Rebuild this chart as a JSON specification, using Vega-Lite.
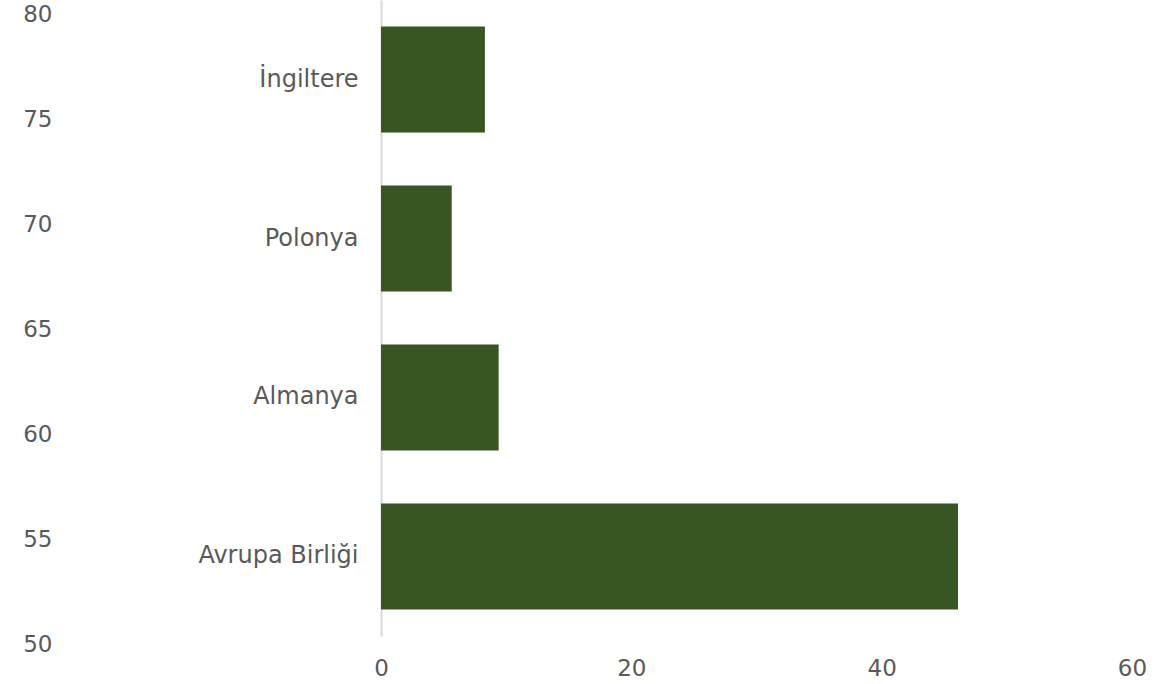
{
  "$schema": "https://vega.github.io/schema/vega-lite/v6.json",
  "width": 751,
  "height": 636,
  "autosize": "none",
  "padding": {"left": 381, "top": 0, "right": 38, "bottom": 48},
  "background": "white",
  "config": {
    "view": {"stroke": null},
    "font": "DejaVu Sans",
    "axis": {"labelFont": "DejaVu Sans", "labelColor": "#595959", "labelFontSize": 23, "grid": false, "ticks": false, "tickSize": 0, "title": null}
  },
  "data": {
    "values": [
      {"country": "İngiltere", "value": 8.3},
      {"country": "Polonya", "value": 5.65},
      {"country": "Almanya", "value": 9.4},
      {"country": "Avrupa Birliği", "value": 46.1}
    ]
  },
  "layer": [
    {
      "mark": {"type": "bar", "color": "#375623"},
      "encoding": {
        "y": {
          "field": "country",
          "type": "nominal",
          "sort": null,
          "scale": {"paddingInner": 0.333, "paddingOuter": 0.167},
          "axis": {"orient": "left", "domain": true, "domainColor": "#d9d9d9", "domainWidth": 2, "labelPadding": 23, "labelAlign": "right", "labelFontSize": 24}
        },
        "x": {
          "field": "value",
          "type": "quantitative",
          "scale": {"domain": [0, 60], "nice": false},
          "axis": {"domain": false, "values": [0, 20, 40, 60], "labelPadding": 21, "labelFlush": false}
        }
      }
    },
    {
      "data": {"values": [{"v": 50}, {"v": 80}]},
      "mark": {"type": "point", "opacity": 0},
      "encoding": {
        "y": {
          "field": "v",
          "type": "quantitative",
          "scale": {"domain": [50, 80], "range": [644, 14], "nice": false, "zero": false},
          "axis": {"orient": "left", "offset": 329, "domain": false, "labelPadding": 0, "values": [50, 55, 60, 65, 70, 75, 80], "labelAlign": "right", "labelFlush": false, "labelOverlap": false}
        }
      }
    }
  ],
  "resolve": {"scale": {"y": "independent"}}
}
